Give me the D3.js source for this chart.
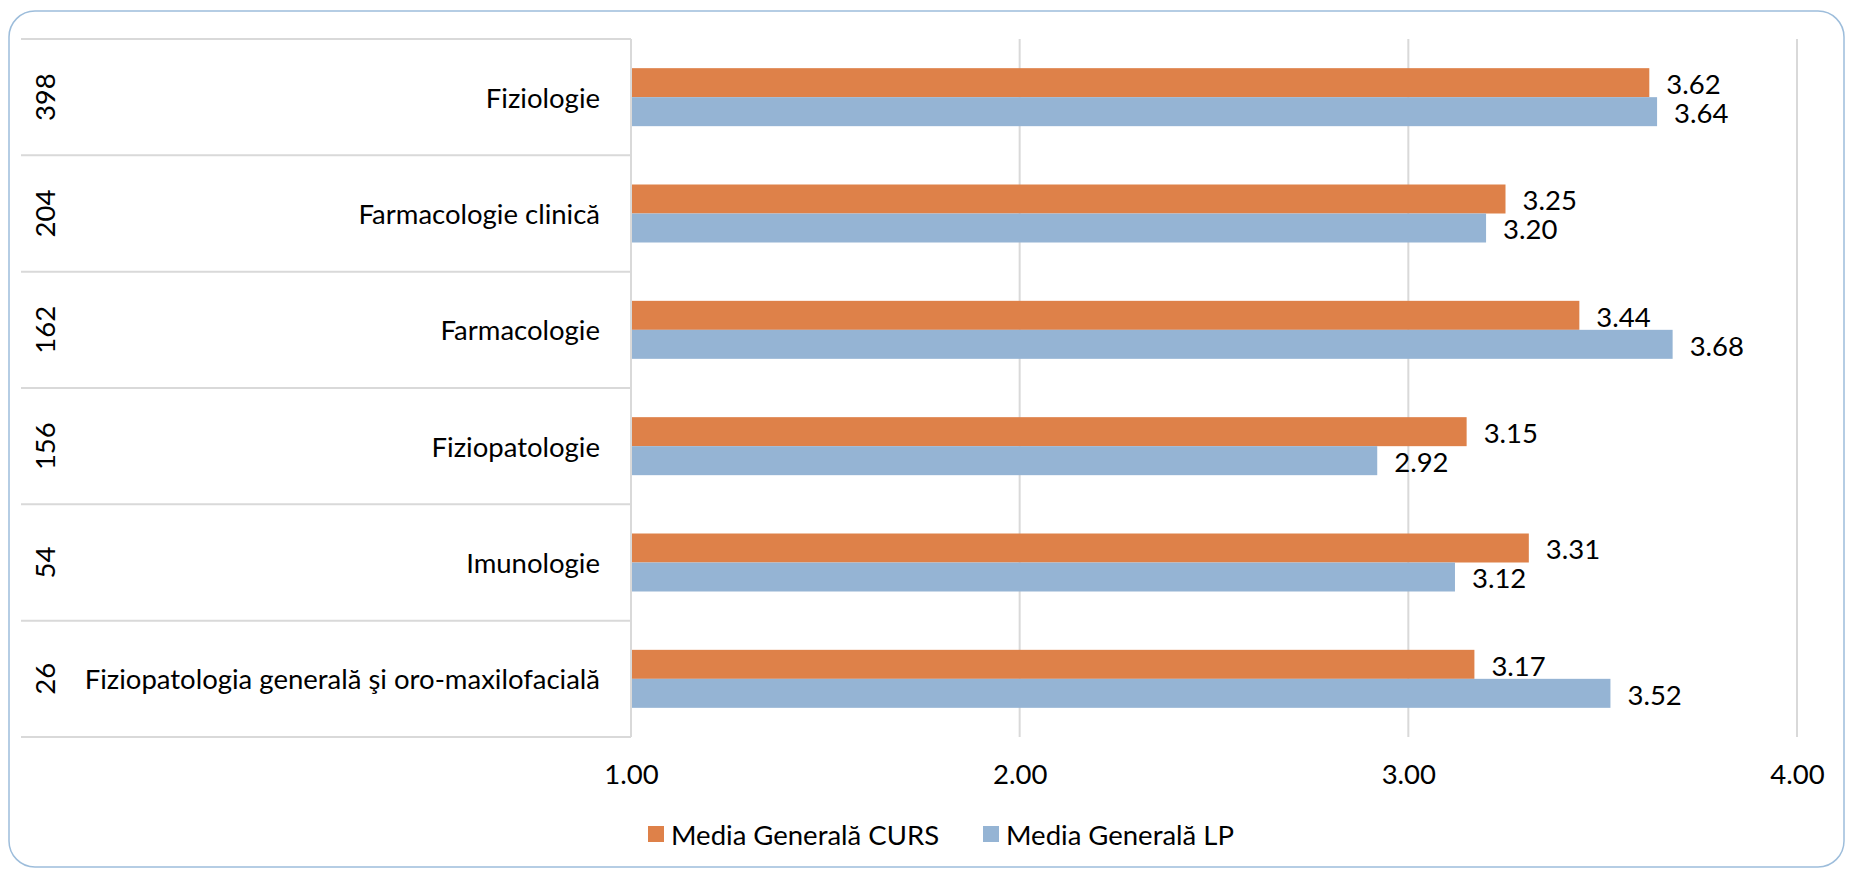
<!DOCTYPE html>
<html>
<head>
<meta charset="utf-8">
<script src="https://cdn.jsdelivr.net/npm/d3@7"></script>
<style>
  html, body { margin: 0; padding: 0; background: #fff; }
  svg { display: block; }
  text { font-family: Lato, "Open Sans", sans-serif; fill: #000; }
</style>
</head>
<body>
<svg id="chart" width="1852" height="872"></svg>
<script>
const categories = ["Fiziologie", "Farmacologie clinică", "Farmacologie", "Fiziopatologie", "Imunologie", "Fiziopatologia generală şi oro-maxilofacială"];
const counts = ["398", "204", "162", "156", "54", "26"];
const seriesNames = ["Media Generală CURS", "Media Generală LP"];
const cursValues = [3.62, 3.25, 3.44, 3.15, 3.31, 3.17];
const lpValues = [3.64, 3.20, 3.68, 2.92, 3.12, 3.52];
const tickValues = [1, 2, 3, 4];
const colors = ["#DE8149", "#95B4D4"];

const svg = d3.select("#chart");
const FS = 27.5;

// outer frame
svg.append("rect")
  .attr("x", 9).attr("y", 11).attr("width", 1835).attr("height", 856)
  .attr("rx", 26).attr("ry", 26)
  .attr("fill", "#fff").attr("stroke", "#9DBDDB").attr("stroke-width", 1.5);

const x = d3.scaleLinear().domain([1, 4]).range([631, 1797]);
const y = d3.scaleBand().domain(categories).range([39, 737]);
const inner = d3.scaleBand().domain(seriesNames).range([y.bandwidth() / 2 - 29, y.bandwidth() / 2 + 29]);

const data = categories.map((c, i) => ({ cat: c, count: counts[i], vals: [cursValues[i], lpValues[i]] }));

// gridlines
svg.append("g").selectAll("line").data(tickValues).join("line")
  .attr("x1", d => x(d)).attr("x2", d => x(d))
  .attr("y1", 39).attr("y2", 737)
  .attr("stroke", "#D9D9D9").attr("stroke-width", 2);

// table row lines
const rowEdges = categories.map(c => y(c)).concat([y.range()[1]]);
svg.append("g").selectAll("line").data(rowEdges).join("line")
  .attr("x1", 21).attr("x2", x(1))
  .attr("y1", d => d).attr("y2", d => d)
  .attr("stroke", "#D9D9D9").attr("stroke-width", 2);

// x axis tick labels
const xAxis = d3.axisBottom(x).tickValues(tickValues).tickFormat(d3.format(".2f")).tickSize(0).tickPadding(0);
const gx = svg.append("g").attr("transform", "translate(0,737)").call(xAxis);
gx.select(".domain").remove();
gx.selectAll("text")
  .attr("y", 47).attr("dy", 0)
  .style("font-size", FS + "px").style("font-family", "Lato, 'Open Sans', sans-serif").attr("fill", "#000");

// rows
const rows = svg.append("g").selectAll("g").data(data).join("g")
  .attr("transform", d => `translate(0,${y(d.cat)})`);

rows.append("text")
  .attr("x", 600).attr("y", y.bandwidth() / 2)
  .attr("text-anchor", "end").attr("dominant-baseline", "central")
  .style("font-size", FS + "px")
  .text(d => d.cat);

rows.append("text")
  .attr("transform", `translate(44,${y.bandwidth() / 2}) rotate(-90)`)
  .attr("text-anchor", "middle").attr("dominant-baseline", "central")
  .style("font-size", FS + "px")
  .text(d => d.count);

rows.selectAll("rect").data(d => d.vals.map((v, k) => ({ v, k }))).join("rect")
  .attr("x", x(1))
  .attr("y", d => inner(seriesNames[d.k]))
  .attr("width", d => x(d.v) - x(1))
  .attr("height", inner.bandwidth())
  .attr("fill", d => colors[d.k]);

rows.selectAll("text.val").data(d => d.vals.map((v, k) => ({ v, k }))).join("text")
  .attr("class", "val")
  .attr("x", d => x(d.v) + 17)
  .attr("y", d => inner(seriesNames[d.k]) + inner.bandwidth() / 2 + 1)
  .attr("dominant-baseline", "central")
  .style("font-size", FS + "px")
  .text(d => d.v.toFixed(2));

// axis line (left border of plot)
svg.append("line")
  .attr("x1", x(1)).attr("x2", x(1)).attr("y1", 39).attr("y2", 737)
  .attr("stroke", "#D9D9D9").attr("stroke-width", 2);

// legend
const legendX = [648, 983];
const lg = svg.append("g").selectAll("g").data(seriesNames).join("g")
  .attr("transform", (d, i) => `translate(${legendX[i]},826)`);
lg.append("rect").attr("width", 16).attr("height", 16).attr("fill", (d, i) => colors[i]);
lg.append("text").attr("x", 23).attr("y", 8).attr("dominant-baseline", "central")
  .style("font-size", FS + "px").text(d => d);
</script>
</body>
</html>
